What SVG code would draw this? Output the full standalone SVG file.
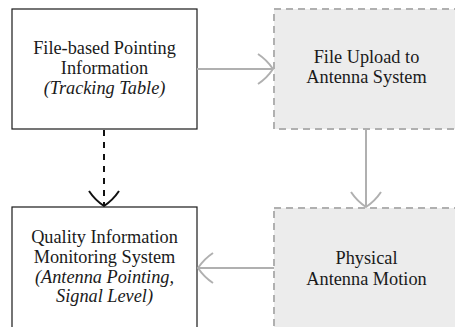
<svg xmlns="http://www.w3.org/2000/svg" width="455" height="327" viewBox="0 0 455 327">
<style>
text{font-family:"Liberation Serif","Times New Roman",serif;font-size:18.3px;fill:#1a1a1a;text-anchor:middle}
.it{font-style:italic}
.solid{fill:#ffffff;stroke:#1a1a1a;stroke-width:1.2}
.dash{fill:#ececec;stroke:#b0b0b0;stroke-width:2;stroke-dasharray:7 5}
.g{fill:none;stroke:#b0b0b0;stroke-width:2}
.k{fill:none;stroke:#111;stroke-width:2}
</style>
<defs>
<path id="ah" d="M -15 -15 Q -6 -9 0 0 Q -6 9 -15 15"/>
</defs>
<g id="node-file-based">
<rect class="solid" x="12" y="9" width="185" height="120"/>
<text x="104.5" y="54">File-based Pointing</text>
<text x="104.5" y="74">Information</text>
<text class="it" x="104.5" y="94">(Tracking Table)</text>
</g>
<g id="node-upload">
<rect class="dash" x="274" y="9" width="186" height="120"/>
<text x="366.5" y="63">File Upload to</text>
<text x="366.5" y="83">Antenna System</text>
</g>
<g id="node-quality">
<rect class="solid" x="12" y="207" width="185" height="125"/>
<text x="104.5" y="243">Quality Information</text>
<text x="104.5" y="263">Monitoring System</text>
<text class="it" x="104.5" y="282.5">(Antenna Pointing,</text>
<text class="it" x="104.5" y="302">Signal Level)</text>
</g>
<g id="node-motion">
<rect class="dash" x="274" y="208" width="186" height="125"/>
<text x="366.5" y="264">Physical</text>
<text x="366.5" y="284.5">Antenna Motion</text>
</g>
<g id="connectors">
<line class="g" x1="197" y1="69" x2="273" y2="69"/>
<use href="#ah" class="g" transform="translate(273,69)"/>
<line class="g" x1="366" y1="129" x2="366" y2="207"/>
<use href="#ah" class="g" transform="translate(366,207) rotate(90)"/>
<line class="g" x1="274" y1="268" x2="198" y2="268"/>
<use href="#ah" class="g" transform="translate(198,268) rotate(180)"/>
<line class="k" x1="104" y1="130" x2="104" y2="206" stroke-dasharray="6 6"/>
<use href="#ah" class="k" transform="translate(104,206) rotate(90)"/>
</g>
</svg>
